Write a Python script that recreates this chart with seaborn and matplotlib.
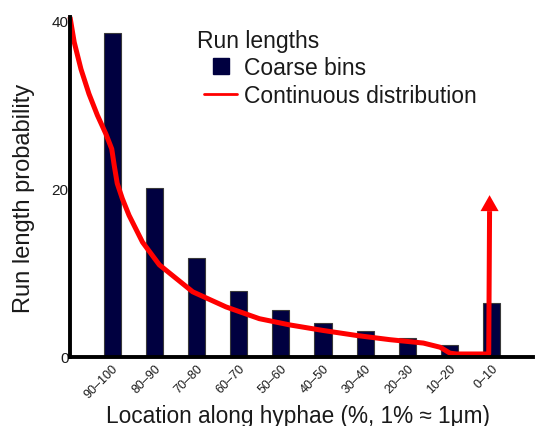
import matplotlib
matplotlib.use("Agg")
import matplotlib.pyplot as plt
from matplotlib.lines import Line2D
import seaborn as sns

# ---- data ----
categories = ["90–100", "80–90", "70–80", "60–70", "50–60",
              "40–50", "30–40", "20–30", "10–20", "0–10"]
bin_values = [38.5, 20.0, 11.7, 7.85, 5.55, 4.0, 3.0, 2.2, 1.37, 6.4]

# continuous distribution (x in bin-index units, y in probability units)
curve_x = [-1.0, -0.90, -0.74, -0.55, -0.35, -0.15, -0.01, 0.05, 0.12,
           0.24, 0.40, 0.72, 1.12, 1.91, 2.70, 3.49, 4.21, 5.0, 5.8,
           6.59, 7.38, 7.78, 8.01, 8.17, 8.93, 8.95]
curve_y = [40.4, 37.4, 34.2, 31.25, 28.7, 26.5, 24.7, 22.7, 20.6,
           18.8, 16.8, 13.6, 10.9, 7.7, 5.9, 4.5, 3.76, 3.1, 2.5,
           2.0, 1.6, 1.1, 0.4, 0.3, 0.3, 17.3]
arrow_tip_y = 19.2

y_ticks = [0, 20, 40]

navy = "#000040"
red = "#ff0000"
txt = "#1a1a1a"

sns.set_style("white")
plt.rcParams["font.family"] = ["Liberation Sans", "DejaVu Sans"]

fig = plt.figure(figsize=(5.35, 4.27), dpi=100)
ax = fig.add_axes([70/535, 1 - 357.5/427, (533 - 70)/535, (357.5 - 18)/427])

sns.barplot(x=categories, y=bin_values, color=navy, saturation=1, width=0.41,
            edgecolor="#3a3a3a", linewidth=0.8, ax=ax, zorder=2)

ax.plot(curve_x, curve_y, color=red, lw=3.6, clip_on=False, zorder=3,
        solid_capstyle="butt")
head_len = arrow_tip_y - curve_y[-1]
ax.arrow(curve_x[-1], curve_y[-1], 0, head_len, width=0.0, head_width=0.43,
         head_length=head_len, length_includes_head=True, color=red,
         lw=0, zorder=4, clip_on=False)

ax.set_xlim(-1.0, 9.98)
ax.set_ylim(0, 40.4)
ax.set_yticks(y_ticks)
ax.set_yticklabels([str(v) for v in y_ticks], fontsize=11, color=txt)
ax.set_xticks(range(len(categories)))
ax.set_xticklabels(categories, rotation=45, ha="right",
                   rotation_mode="anchor", fontsize=9, color=txt)

for side in ["top", "right"]:
    ax.spines[side].set_visible(False)
for side in ["left", "bottom"]:
    ax.spines[side].set_linewidth(2.8)
    ax.spines[side].set_color("black")
    ax.spines[side].set_zorder(5)

ax.tick_params(axis="both", direction="in", length=3, width=2, color="black")
ax.tick_params(axis="y", pad=1)
ax.tick_params(axis="x", pad=4)

ax.set_xlabel("Location along hyphae (%, 1% ≈ 1μm)", fontsize=16.3, color=txt)
ax.xaxis.set_label_coords((298.5 - 70)/463, -(405.5 - 357.5)/339.5)
ax.set_ylabel("Run length probability", fontsize=17, color=txt)
ax.yaxis.set_label_coords((35 - 70)/463, (357.5 - 198)/339.5)

handles = [
    Line2D([], [], marker="s", linestyle="none", markersize=12,
           markerfacecolor=navy, markeredgecolor=navy),
    Line2D([], [], color=red, lw=2),
]
leg = fig.legend(handles, ["Coarse bins", "Continuous distribution"],
                 loc="upper left",
                 bbox_to_anchor=(204/535, 1 - 57/427),
                 frameon=False, fontsize=16.5,
                 handlelength=1.45, handletextpad=0.3, labelspacing=0.2,
                 borderpad=0, borderaxespad=0)
for t in leg.get_texts():
    t.set_color(txt)
fig.text(197/535, 1 - 48/427, "Run lengths", fontsize=16.5, color=txt,
         ha="left", va="baseline")

fig.savefig("out.png", dpi=100)
